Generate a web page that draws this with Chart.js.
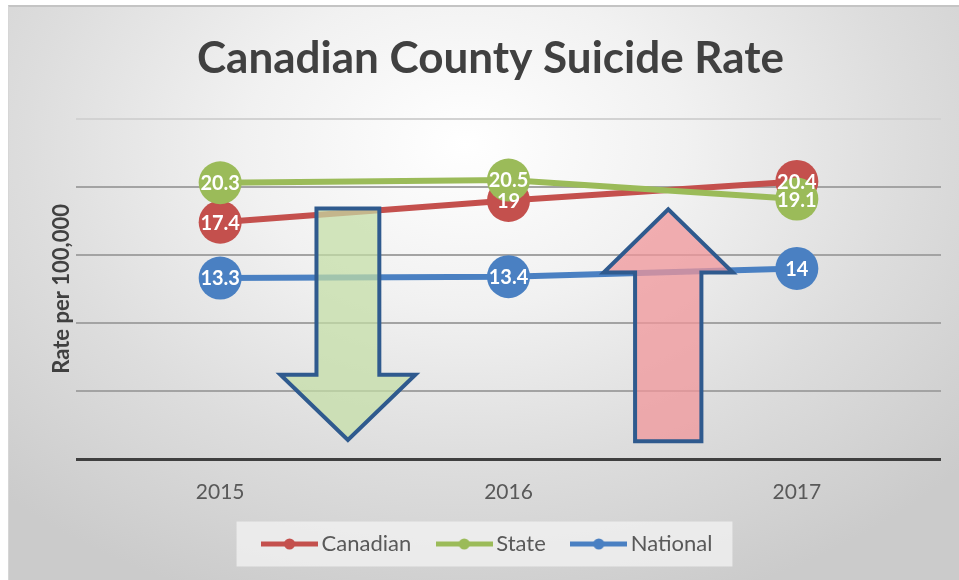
<!doctype html>
<html lang="en">
<head>
  <meta charset="utf-8">
  <title>Canadian County Suicide Rate</title>
  <style>
    * {
      margin: 0;
      padding: 0;
    }

    body {
      width: 959px;
      height: 580px;
      background: #fff;
      position: relative;
      overflow: hidden;
    }

    .frame {
      position: absolute;
      left: 8px;
      top: 5px;
      right: 0;
      bottom: 0;
      border-top: 2px solid #c4c4c4;
      border-left: 1px solid #d6d6d6;
      background: radial-gradient(ellipse 70% 85% at 48% 24%, #ffffff 0%, #f1f1f1 33%, #dddddd 66%, #cbcbcb 100%);
    }

    #myChart {
      position: absolute;
      left: 0;
      top: 0;
    }
  </style>
</head>
<body>
<div class="frame"></div>
<canvas id="myChart" width="959" height="580"></canvas>
<script src="https://cdn.jsdelivr.net/npm/chart.js"></script>
<script>
  // data
  const years = ['2015', '2016', '2017'];
  const canadian = [17.4, 19, 20.4];
  const state = [20.3, 20.5, 19.1];
  const national = [13.3, 13.4, 14];

  const RED = '#c4504d';
  const GREEN = '#9bbb59';
  const BLUE = '#4a80c2';

  // the two hand drawn arrows, in axis units (x = category index)
  const arrowShapes = [
    {x: 0.443, shaft: 0.109, head: 0.234, start: 18.4, base: 6.2, tip: 1.4, fill: 'rgba(196,222,165,0.72)'},
    {x: 1.554, shaft: 0.115, head: 0.224, start: 1.3, base: 13.7, tip: 18.35, fill: 'rgba(240,150,154,0.75)'}
  ];

  // legend marker: line with a dot
  function legendMarker(color) {
    const c = document.createElement('canvas');
    c.width = 57;
    c.height = 14;
    const g = c.getContext('2d');
    g.strokeStyle = color;
    g.lineWidth = 5;
    g.beginPath();
    g.moveTo(0, 7);
    g.lineTo(57, 7);
    g.stroke();
    g.fillStyle = color;
    g.beginPath();
    g.arc(28.5, 7, 5.5, 0, Math.PI * 2);
    g.fill();
    return c;
  }

  const arrowsPlugin = {
    id: 'arrows',
    afterDatasetsDraw(chart) {
      const ctx = chart.ctx;
      const xs = chart.scales.x;
      const ys = chart.scales.y;
      ctx.save();
      arrowShapes.forEach(a => {
        const px = v => xs.getPixelForValue(v);
        const py = v => ys.getPixelForValue(v);
        ctx.beginPath();
        ctx.moveTo(px(a.x - a.shaft), py(a.start));
        ctx.lineTo(px(a.x - a.shaft), py(a.base));
        ctx.lineTo(px(a.x - a.head), py(a.base));
        ctx.lineTo(px(a.x), py(a.tip));
        ctx.lineTo(px(a.x + a.head), py(a.base));
        ctx.lineTo(px(a.x + a.shaft), py(a.base));
        ctx.lineTo(px(a.x + a.shaft), py(a.start));
        ctx.closePath();
        ctx.fillStyle = a.fill;
        ctx.fill();
        ctx.lineWidth = 4;
        ctx.lineJoin = 'miter';
        ctx.strokeStyle = '#2f5a8e';
        ctx.stroke();
      });
      ctx.restore();
    }
  };

  const valueLabels = {
    id: 'valueLabels',
    afterDatasetsDraw(chart) {
      const ctx = chart.ctx;
      ctx.save();
      ctx.font = 'bold 20px Lato';
      ctx.fillStyle = '#ffffff';
      ctx.textAlign = 'center';
      ctx.textBaseline = 'middle';
      [0, 1, 2].forEach(i => {
        const ds = chart.data.datasets[i];
        chart.getDatasetMeta(i).data.forEach((pt, j) => {
          ctx.fillText(String(ds.data[j]), pt.x, pt.y + 1);
        });
      });
      ctx.restore();
    }
  };

  const legendBack = {
    id: 'legendBack',
    beforeDraw(chart) {
      const boxes = chart.legend && chart.legend.legendHitBoxes;
      if (!boxes || !boxes.length) return;
      const left = Math.min(...boxes.map(b => b.left)) - 32;
      const right = Math.max(...boxes.map(b => b.left + b.width)) + 20;
      const mid = boxes[0].top + boxes[0].height / 2;
      const ctx = chart.ctx;
      ctx.save();
      ctx.fillStyle = 'rgba(243,243,243,0.75)';
      ctx.fillRect(left, mid - 22.5, right - left, 45);
      ctx.restore();
    }
  };

  function lineSet(label, values, color, order) {
    return {
      label: label,
      data: values,
      borderColor: color,
      backgroundColor: color,
      borderWidth: 6,
      pointRadius: 21.5,
      pointHoverRadius: 21.5,
      pointBorderWidth: 0,
      pointBackgroundColor: color,
      tension: 0,
      order: order
    };
  }

  const data = {
    labels: years,
    datasets: [
      lineSet('Canadian', canadian, RED, 3),
      lineSet('State', state, GREEN, 2),
      lineSet('National', national, BLUE, 1)
    ]
  };

  const config = {
    type: 'line',
    data,
    options: {
      responsive: false,
      animation: false,
      layout: {
        autoPadding: false,
        padding: {left: 40, right: 18, top: 0, bottom: 15}
      },
      plugins: {
        title: {
          display: true,
          text: 'Canadian County Suicide Rate',
          color: '#404040',
          font: {family: 'Lato', size: 44, weight: 'bold'},
          padding: {top: 32, bottom: 34}
        },
        legend: {
          position: 'bottom',
          labels: {
            usePointStyle: true,
            pointStyleWidth: 42,
            padding: 32,
            color: '#595959',
            font: {family: 'Lato', size: 22},
            generateLabels(chart) {
              return chart.data.datasets.map((ds, i) => ({
                text: ds.label,
                fontColor: '#595959',
                pointStyle: legendMarker(ds.borderColor),
                fillStyle: ds.borderColor,
                strokeStyle: ds.borderColor,
                lineWidth: 0,
                hidden: false,
                datasetIndex: i
              }));
            }
          }
        },
        tooltip: {enabled: false}
      },
      scales: {
        x: {
          offset: true,
          grid: {display: false, drawTicks: false},
          border: {display: false},
          ticks: {
            color: '#595959',
            font: {family: 'Lato', size: 21},
            padding: 21
          },
          afterFit(scale) {
            scale.height = 42;
          }
        },
        y: {
          min: 0,
          max: 25,
          border: {display: false},
          ticks: {display: false, stepSize: 5},
          grid: {
            drawTicks: false,
            color: ctx => ctx.tick.value === 0 ? '#3f3f3f' : (ctx.tick.value === 25 ? '#d2d2d2' : '#a3a3a3'),
            lineWidth: ctx => ctx.tick.value === 0 ? 3 : 2
          },
          title: {
            display: true,
            text: 'Rate per 100,000',
            color: '#404040',
            font: {family: 'Lato', size: 22, weight: 'bold'},
            padding: {top: 9, bottom: 0}
          },
          afterFit(scale) {
            scale.width = 36;
          }
        }
      }
    },
    plugins: [legendBack, arrowsPlugin, valueLabels]
  };

  const myChart = new Chart(
    document.getElementById('myChart'),
    config
  );
</script>
</body>
</html>
